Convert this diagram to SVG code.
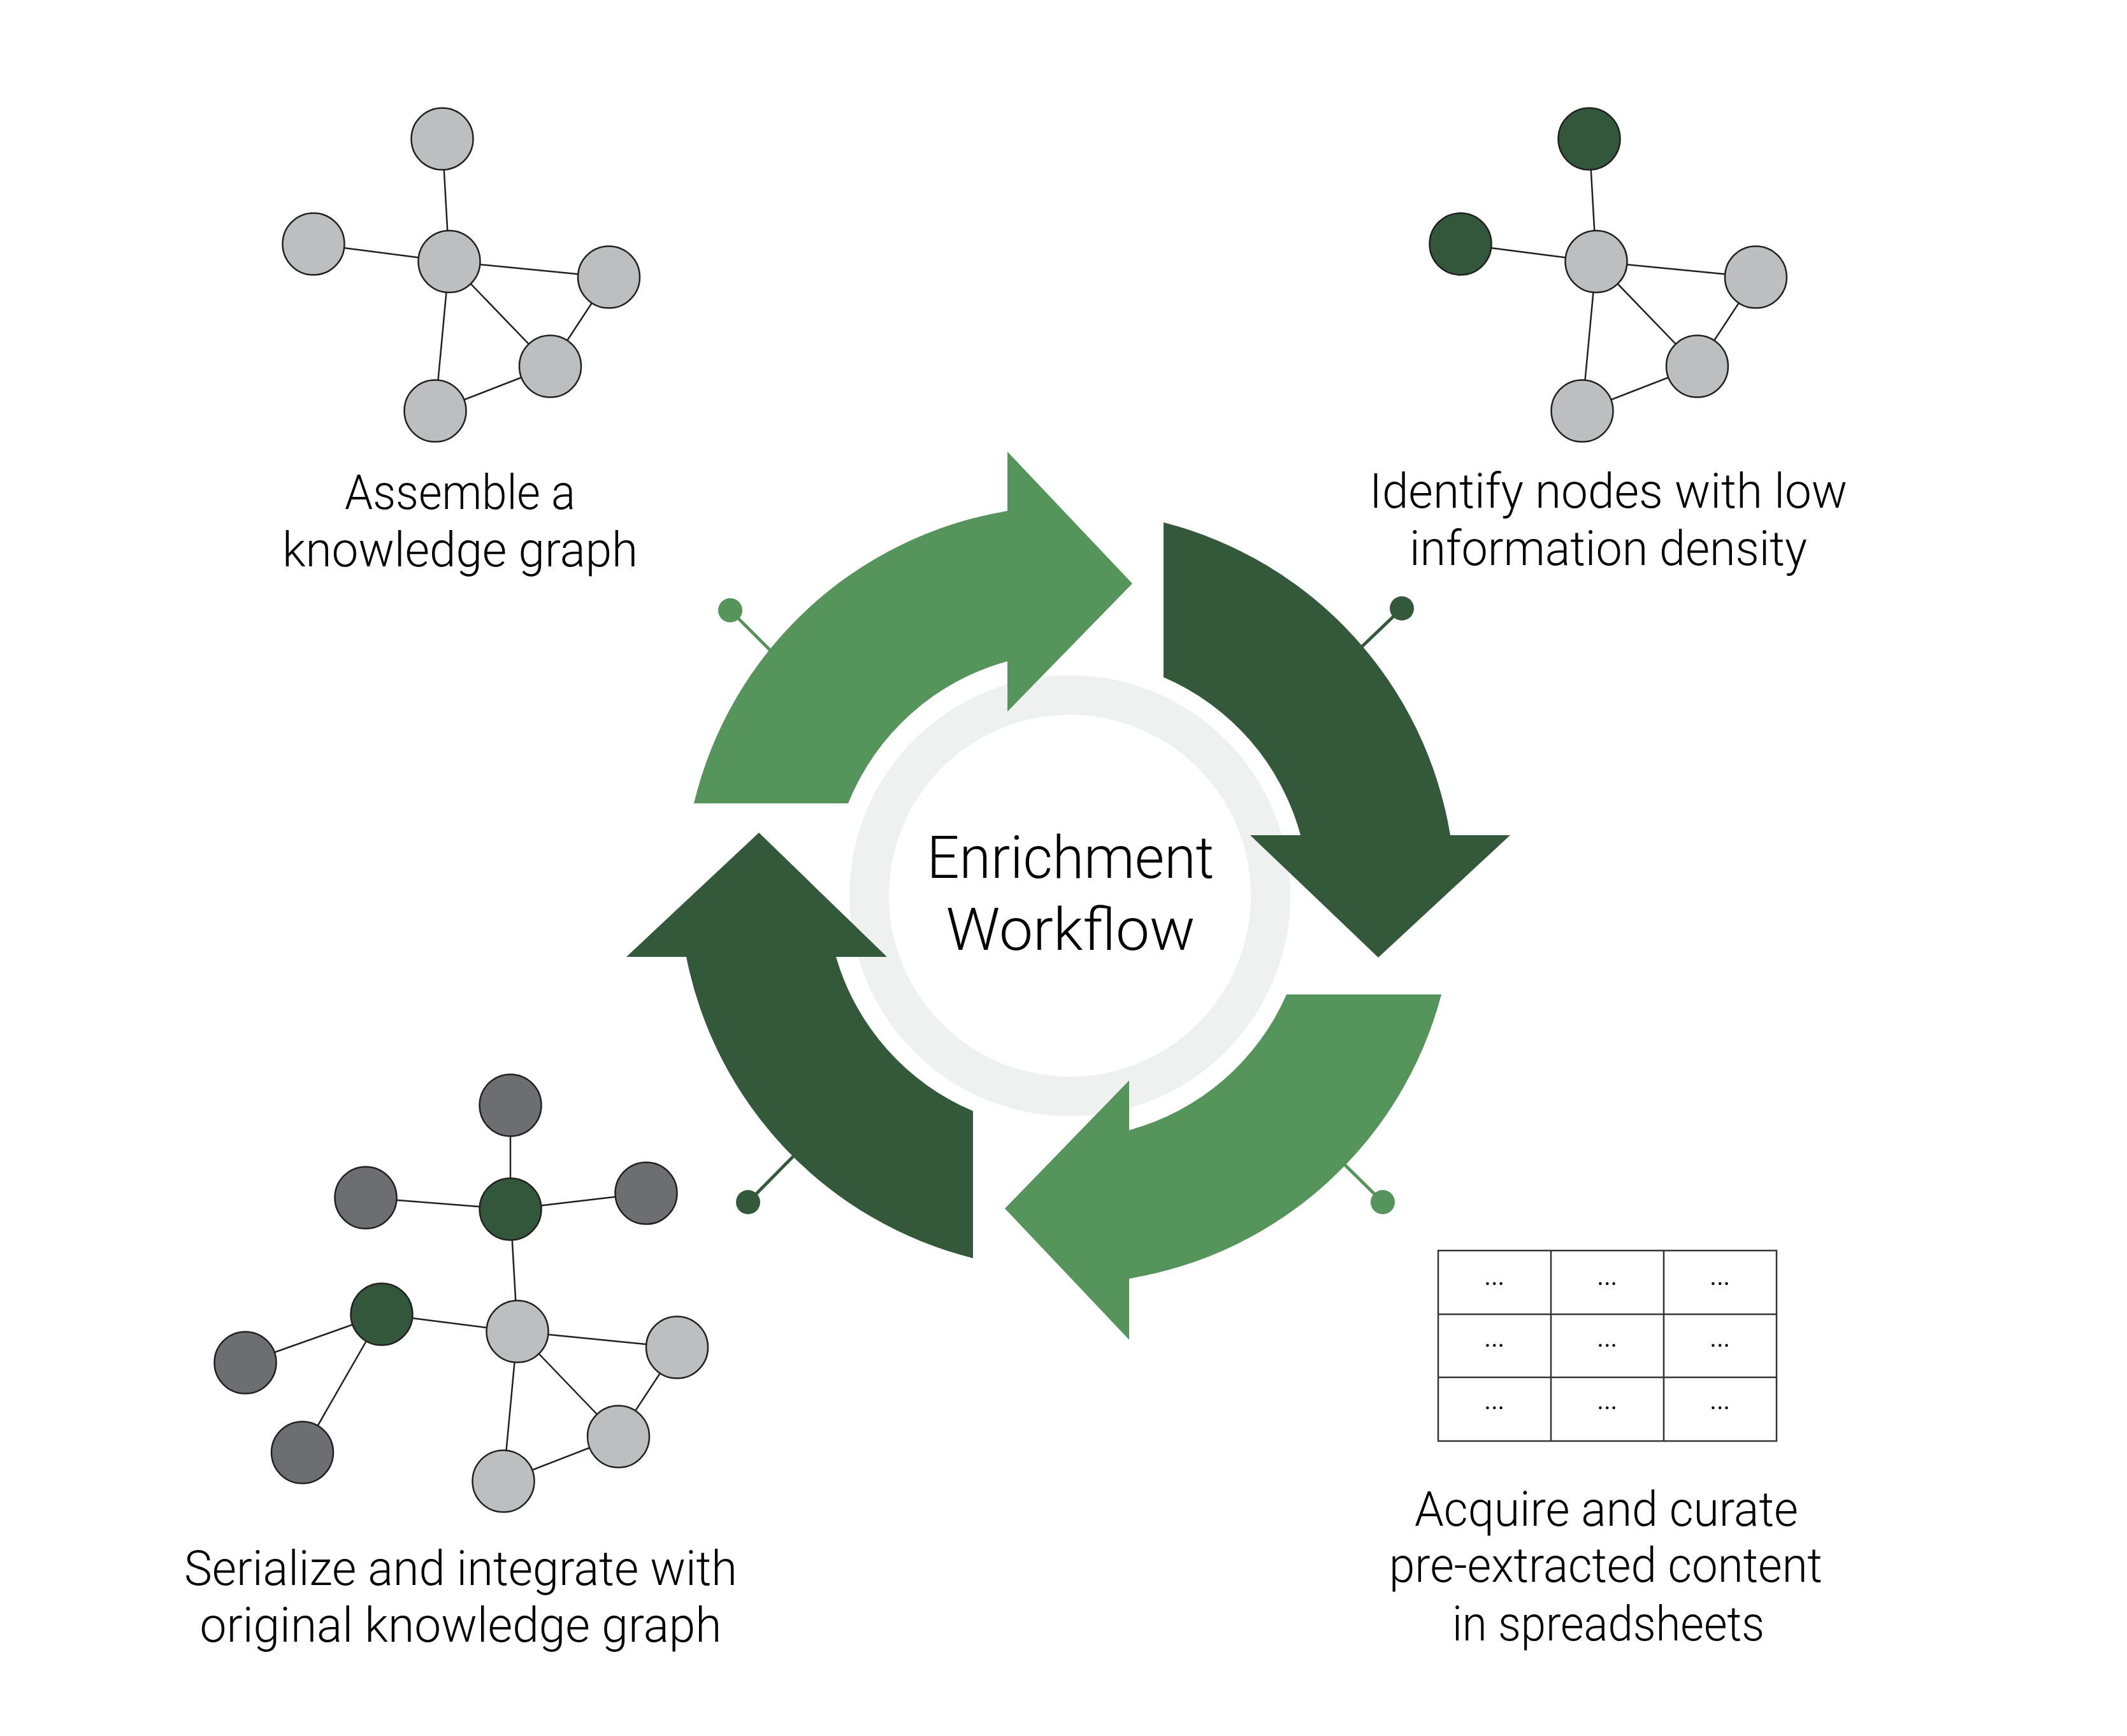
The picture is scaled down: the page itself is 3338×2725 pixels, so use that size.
<svg xmlns="http://www.w3.org/2000/svg" width="3338" height="2725" viewBox="0 0 3338 2725">
<style>
.lbl{font-family:Roboto,"Open Sans","Liberation Sans",sans-serif;font-size:76px;fill:#000;text-anchor:middle;font-weight:300}
.ctr{font-family:Roboto,"Open Sans","Liberation Sans",sans-serif;font-size:93px;fill:#000;text-anchor:middle;font-weight:300}
.cell{font-family:Roboto,"Open Sans","Liberation Sans",sans-serif;font-size:54px;fill:#000;text-anchor:middle;font-weight:300}
.edge{stroke:#231f20;stroke-width:2.5;fill:none}
.n{stroke:#231f20;stroke-width:2.5}
.g{fill:#bcbec0}
.d{fill:#6d6e71}
.k{fill:#33573a}
.lg{fill:#55945a}
.dg{fill:#33583a}
.pinL{stroke:#55945a;stroke-width:5}
.pinD{stroke:#33583a;stroke-width:5}
.tbl{stroke:#333;stroke-width:2.5;fill:none}
</style>
<rect width="3338" height="2725" fill="#fff"/>

<!-- center ring -->
<g id="center">
<circle cx="1679" cy="1406" r="315" fill="none" stroke="#eff1f0" stroke-width="62"/>
<text class="ctr" x="1680" y="1378" textLength="451" lengthAdjust="spacingAndGlyphs">Enrichment</text>
<text class="ctr" x="1680" y="1491" textLength="391" lengthAdjust="spacingAndGlyphs">Workflow</text>
</g>

<!-- connectors: pins and graph edges -->
<g id="connectors">
<line class="pinL" x1="1146" y1="958" x2="1220" y2="1032"/>
<line class="pinD" x1="2200" y1="955" x2="2130" y2="1022"/>
<line class="pinL" x1="2170" y1="1887" x2="2104" y2="1822"/>
<line class="pinD" x1="1174" y1="1887" x2="1245" y2="1815"/>
<!-- graph 1 -->
<line class="edge" x1="694" y1="218" x2="705" y2="410.5"/>
<line class="edge" x1="492" y1="383" x2="705" y2="410.5"/>
<line class="edge" x1="705" y1="410.5" x2="955.5" y2="435"/>
<line class="edge" x1="705" y1="410.5" x2="863.5" y2="575"/>
<line class="edge" x1="705" y1="410.5" x2="683" y2="645"/>
<line class="edge" x1="955.5" y1="435" x2="863.5" y2="575"/>
<line class="edge" x1="863.5" y1="575" x2="683" y2="645"/>
<!-- graph 2 -->
<line class="edge" x1="2494" y1="218" x2="2505" y2="410.5"/>
<line class="edge" x1="2292" y1="383" x2="2505" y2="410.5"/>
<line class="edge" x1="2505" y1="410.5" x2="2755.5" y2="435"/>
<line class="edge" x1="2505" y1="410.5" x2="2663.5" y2="575"/>
<line class="edge" x1="2505" y1="410.5" x2="2483" y2="645"/>
<line class="edge" x1="2755.5" y1="435" x2="2663.5" y2="575"/>
<line class="edge" x1="2663.5" y1="575" x2="2483" y2="645"/>
<!-- graph 3 -->
<line class="edge" x1="801" y1="1735" x2="801" y2="1898"/>
<line class="edge" x1="574" y1="1880" x2="801" y2="1898"/>
<line class="edge" x1="801" y1="1898" x2="1014" y2="1873"/>
<line class="edge" x1="801" y1="1898" x2="812" y2="2090"/>
<line class="edge" x1="599" y1="2063" x2="812" y2="2090"/>
<line class="edge" x1="599" y1="2063" x2="385" y2="2139"/>
<line class="edge" x1="599" y1="2063" x2="474.5" y2="2280"/>
<line class="edge" x1="812" y1="2090" x2="1062.5" y2="2115"/>
<line class="edge" x1="812" y1="2090" x2="970.5" y2="2255"/>
<line class="edge" x1="812" y1="2090" x2="790" y2="2325"/>
<line class="edge" x1="1062.5" y1="2115" x2="970.5" y2="2255"/>
<line class="edge" x1="970.5" y1="2255" x2="790" y2="2325"/>
</g>

<!-- cycle arrows -->
<g id="arrows">
<path id="arrow-assemble" class="lg" d="M1089 1261 A609 609 0 0 1 1581 802 L1581 709 L1777 916 L1581 1117 L1581 1038 A377 377 0 0 0 1331 1261 Z"/>
<path id="arrow-identify" class="dg" d="M1826 820 A609 609 0 0 1 2276 1311 L2370 1311 L2163 1503 L1962 1311 L2041 1311 A377 377 0 0 0 1826 1063 Z"/>
<path id="arrow-acquire" class="lg" d="M2262 1561 A609 609 0 0 1 1772 2007 L1772 2103 L1577 1897 L1772 1696 L1772 1774 A377 377 0 0 0 2019 1561 Z"/>
<path id="arrow-serialize" class="dg" d="M1527 1975 A609 609 0 0 1 1077 1502 L983 1502 L1191 1307 L1392 1502 L1312 1502 A377 377 0 0 0 1527 1744 Z"/>
<circle class="lg" cx="1146" cy="958" r="19"/>
<circle class="dg" cx="2200" cy="955" r="19"/>
<circle class="lg" cx="2170" cy="1887" r="19"/>
<circle class="dg" cx="1174" cy="1887" r="19"/>
</g>

<!-- step 1: assemble -->
<g id="step-assemble">
<circle class="n g" cx="694" cy="218" r="48.5"/>
<circle class="n g" cx="492" cy="383" r="48.5"/>
<circle class="n g" cx="705" cy="410.5" r="48.5"/>
<circle class="n g" cx="955.5" cy="435" r="48.5"/>
<circle class="n g" cx="863.5" cy="575" r="48.5"/>
<circle class="n g" cx="683" cy="645" r="48.5"/>
<text class="lbl" x="722" y="799" textLength="362" lengthAdjust="spacingAndGlyphs">Assemble a</text>
<text class="lbl" x="722" y="889" textLength="558" lengthAdjust="spacingAndGlyphs">knowledge graph</text>
</g>

<!-- step 2: identify -->
<g id="step-identify">
<circle class="n k" cx="2494" cy="218" r="48.5"/>
<circle class="n k" cx="2292" cy="383" r="48.5"/>
<circle class="n g" cx="2505" cy="410.5" r="48.5"/>
<circle class="n g" cx="2755.5" cy="435" r="48.5"/>
<circle class="n g" cx="2663.5" cy="575" r="48.5"/>
<circle class="n g" cx="2483" cy="645" r="48.5"/>
<text class="lbl" x="2524" y="797" textLength="750" lengthAdjust="spacingAndGlyphs">Identify nodes with low</text>
<text class="lbl" x="2524" y="887" textLength="624" lengthAdjust="spacingAndGlyphs">information density</text>
</g>

<!-- step 3: acquire -->
<g id="step-acquire">
<rect class="tbl" x="2257" y="1963" width="531" height="299"/>
<line class="tbl" x1="2434" y1="1963" x2="2434" y2="2262"/>
<line class="tbl" x1="2611" y1="1963" x2="2611" y2="2262"/>
<line class="tbl" x1="2257" y1="2063" x2="2788" y2="2063"/>
<line class="tbl" x1="2257" y1="2162" x2="2788" y2="2162"/>
<text class="cell" x="2345" y="2017" textLength="38" lengthAdjust="spacing">…</text>
<text class="cell" x="2522" y="2017">…</text>
<text class="cell" x="2699" y="2017">…</text>
<text class="cell" x="2345" y="2114">…</text>
<text class="cell" x="2522" y="2114">…</text>
<text class="cell" x="2699" y="2114">…</text>
<text class="cell" x="2345" y="2212">…</text>
<text class="cell" x="2522" y="2212">…</text>
<text class="cell" x="2699" y="2212">…</text>
<text class="lbl" x="2521" y="2395" textLength="602" lengthAdjust="spacingAndGlyphs">Acquire and curate</text>
<text class="lbl" x="2520" y="2483" textLength="680" lengthAdjust="spacingAndGlyphs">pre-extracted content</text>
<text class="lbl" x="2524" y="2575" textLength="490" lengthAdjust="spacingAndGlyphs">in spreadsheets</text>
</g>

<!-- step 4: serialize -->
<g id="step-serialize">
<circle class="n d" cx="801" cy="1735" r="48.5"/>
<circle class="n d" cx="574" cy="1880" r="48.5"/>
<circle class="n d" cx="1014" cy="1873" r="48.5"/>
<circle class="n k" cx="801" cy="1898" r="48.5"/>
<circle class="n k" cx="599" cy="2063" r="48.5"/>
<circle class="n d" cx="385" cy="2139" r="48.5"/>
<circle class="n d" cx="474.5" cy="2280" r="48.5"/>
<circle class="n g" cx="812" cy="2090" r="48.5"/>
<circle class="n g" cx="1062.5" cy="2115" r="48.5"/>
<circle class="n g" cx="970.5" cy="2255" r="48.5"/>
<circle class="n g" cx="790" cy="2325" r="48.5"/>
<text class="lbl" x="723" y="2488" textLength="868" lengthAdjust="spacingAndGlyphs">Serialize and integrate with</text>
<text class="lbl" x="723" y="2577" textLength="819" lengthAdjust="spacingAndGlyphs">original knowledge graph</text>
</g>
</svg>
